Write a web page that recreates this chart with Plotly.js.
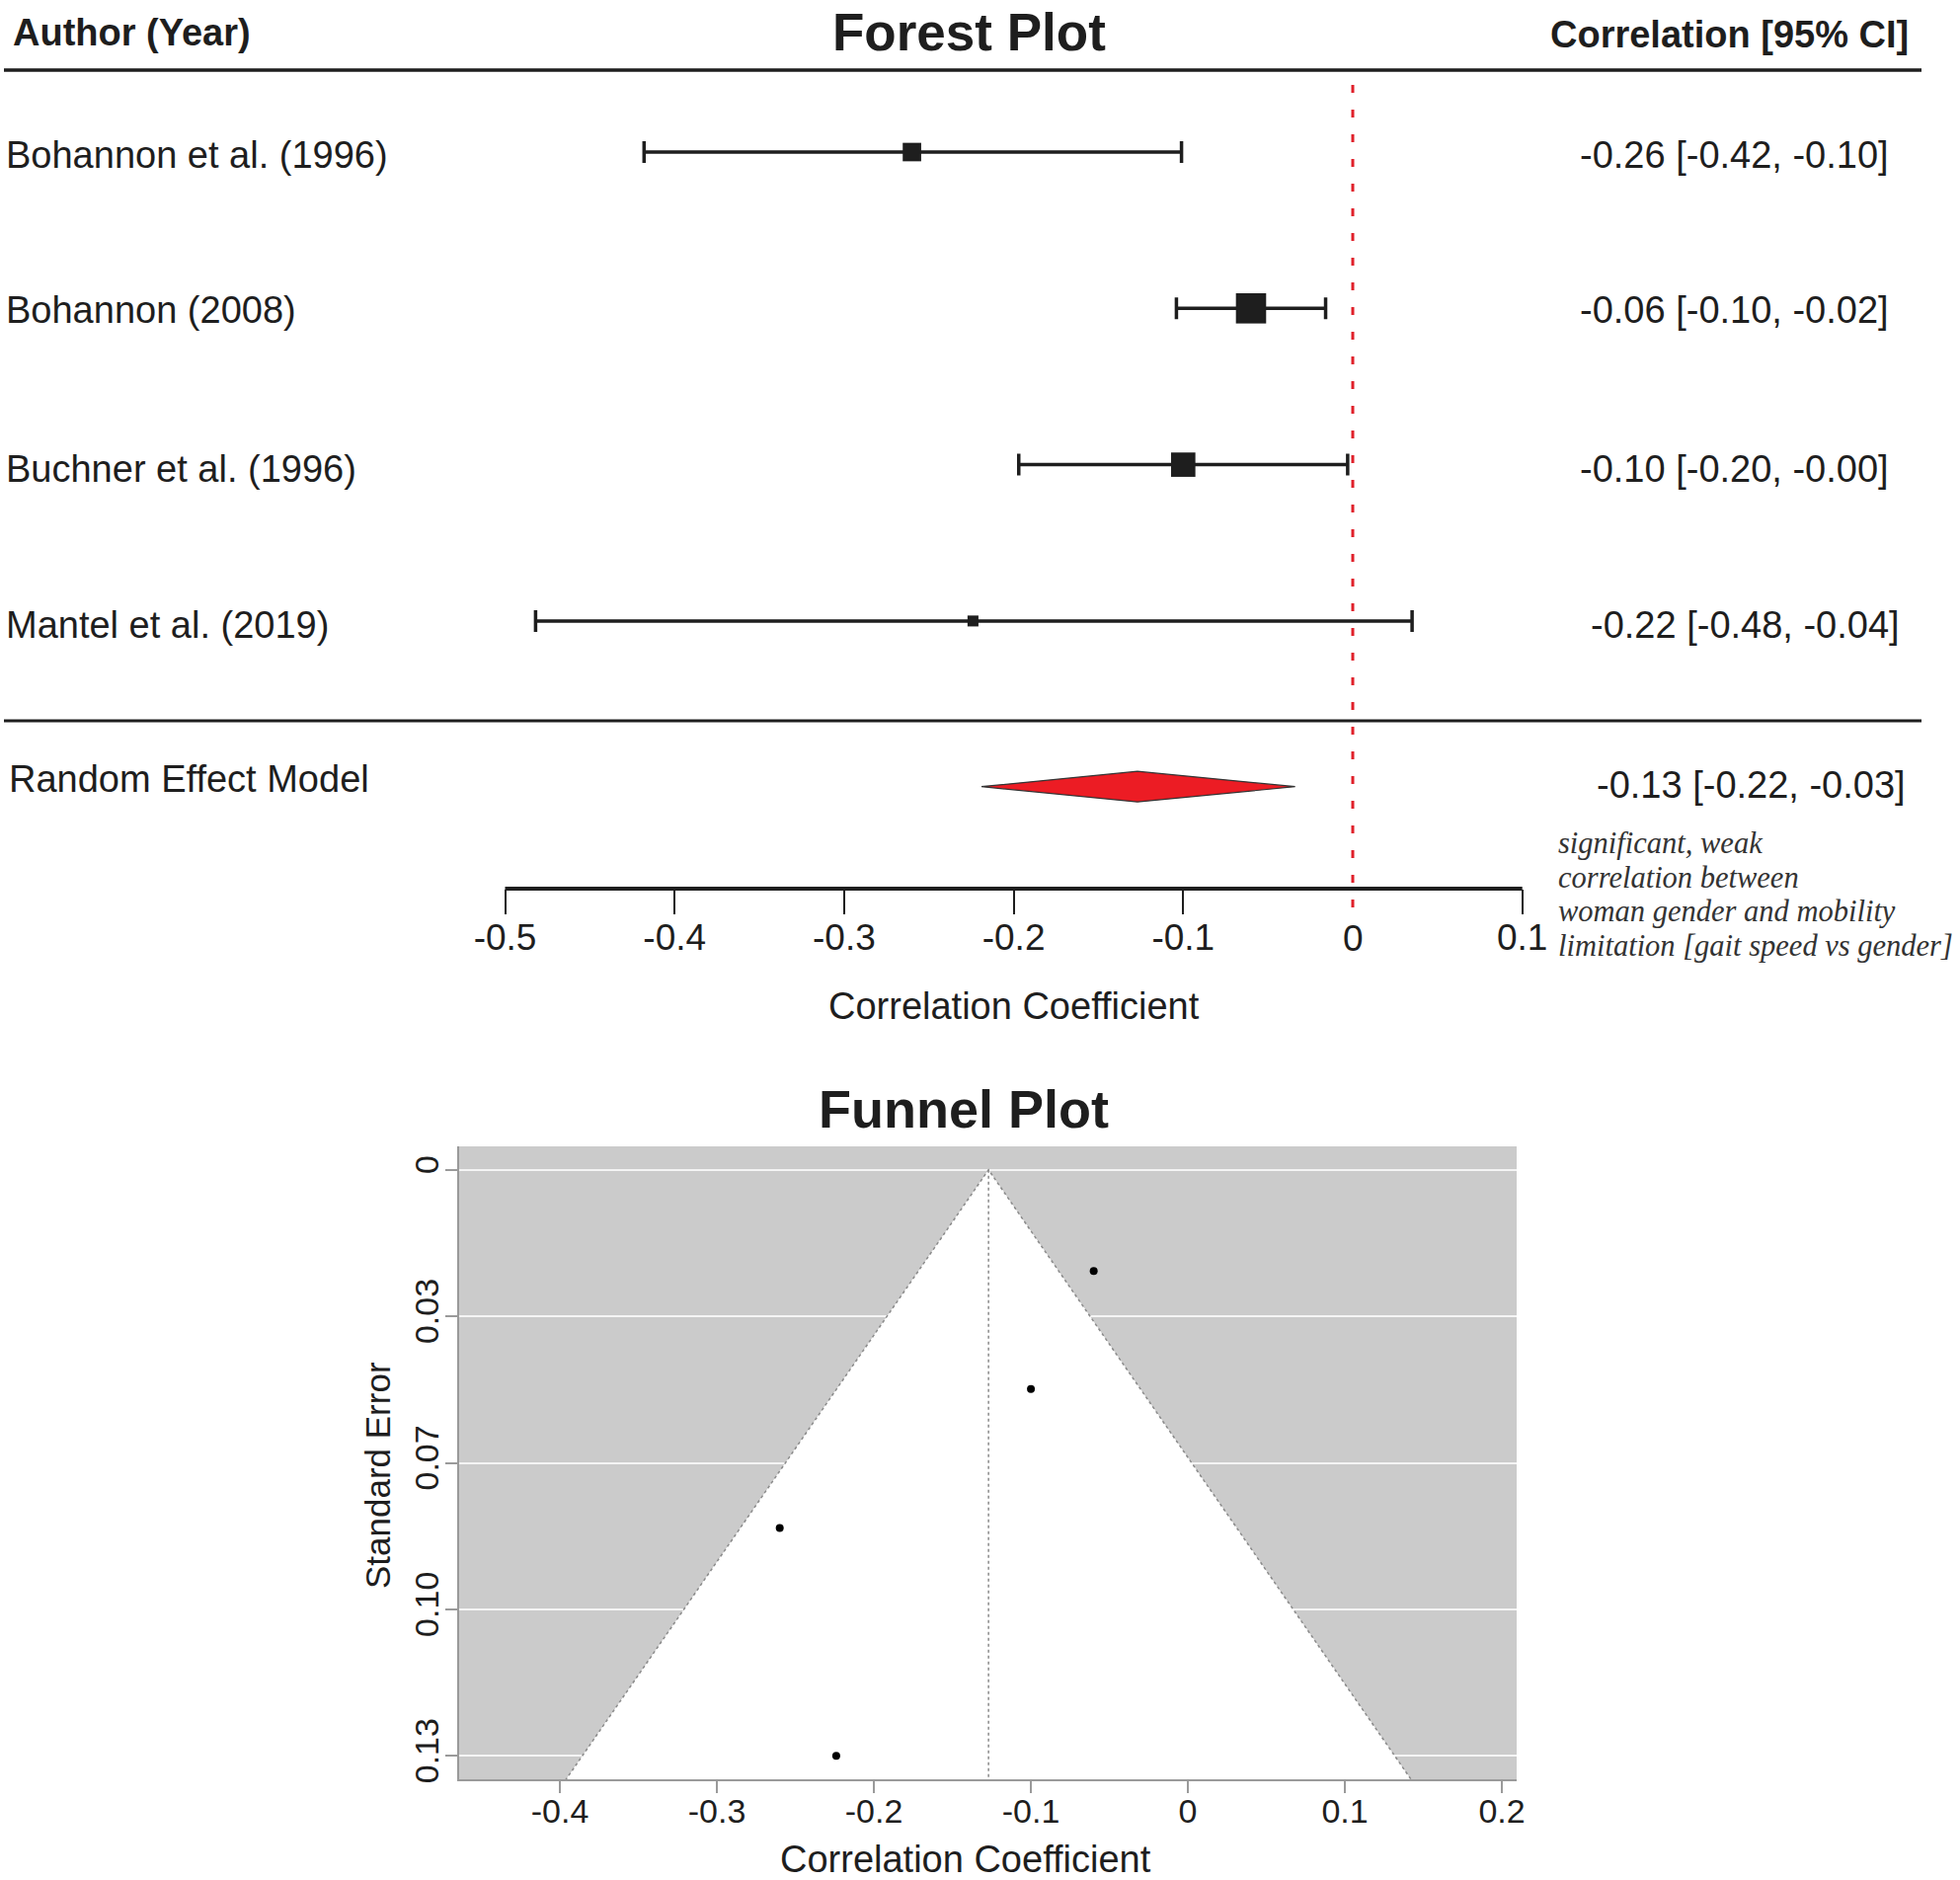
<!DOCTYPE html>
<html>
<head>
<meta charset="utf-8">
<script src="https://cdn.plot.ly/plotly-3.0.1.min.js"></script>
<style>html,body{margin:0;padding:0;background:#fff;}#chart{width:1985px;height:1904px;}</style>
</head>
<body>
<div id="chart"></div>
<script>
// ---------- data ----------
const studies = ["Bohannon et al. (1996)", "Bohannon (2008)", "Buchner et al. (1996)", "Mantel et al. (2019)"];
const estimate = [-0.26, -0.06, -0.10, -0.224];
const ciLower = [-0.418, -0.104, -0.197, -0.482];
const ciUpper = [-0.101, -0.016, -0.003, 0.035];
const ciText = ["-0.26 [-0.42, -0.10]", "-0.06 [-0.10, -0.02]", "-0.10 [-0.20, -0.00]", "-0.22 [-0.48, -0.04]"];
const weightPct = [22, 36, 29, 13];
const stdError = [0.0807, 0.0228, 0.0494, 0.132];

const reLabel = "Random Effect Model";
const reEstimate = -0.127;
const reLower = -0.219;
const reUpper = -0.034;
const reText = "-0.13 [-0.22, -0.03]";

const forestTickVals = [-0.5, -0.4, -0.3, -0.2, -0.1, 0.1];
const forestTickText = ["-0.5", "-0.4", "-0.3", "-0.2", "-0.1", "0.1"];
const funnelXTickVals = [-0.4, -0.3, -0.2, -0.1, 0, 0.1, 0.2];
const funnelXTickText = ["-0.4", "-0.3", "-0.2", "-0.1", "0", "0.1", "0.2"];
const funnelYTickText = ["0", "0.03", "0.07", "0.10", "0.13"];
const seMax = 0.132;

const noteLines = ["significant, weak", "correlation between", "woman gender and mobility", "limitation [gait speed vs gender]"];

// ---------- layout helpers ----------
const W = 1985, H = 1904;
const px = v => v / W;          // paper x from pixel
const py = v => 1 - v / H;      // paper y from pixel
const SANS = "Liberation Sans, Arial, Helvetica, sans-serif";
const SERIF = "Liberation Serif, Times New Roman, serif";
const INK = "#1e1e1e";

const rowPos = studies.map((_, i) => i);
const rePos = 4.06;
const diamondHalf = 0.098;
const labelShift = [-3, -2, -4, -4];
const rightX = [1598, 1598, 1598, 1609, 1615];

// ---------- traces ----------
const traces = [];

// forest: study CIs and boxes
traces.push({
  type: "scatter", mode: "markers", xaxis: "x", yaxis: "y",
  x: estimate, y: rowPos,
  marker: { symbol: "square", size: weightPct.map(w => w * 0.85), color: INK, opacity: 1, line: { width: 0 } },
  error_x: {
    type: "data", symmetric: false,
    array: estimate.map((e, i) => ciUpper[i] - e),
    arrayminus: estimate.map((e, i) => e - ciLower[i]),
    thickness: 3.5, width: 11, color: INK
  },
  hoverinfo: "skip"
});

// forest: random-effects diamond
traces.push({
  type: "scatter", mode: "lines", xaxis: "x", yaxis: "y",
  x: [reLower, reEstimate, reUpper, reEstimate, reLower],
  y: [rePos, rePos - diamondHalf, rePos, rePos + diamondHalf, rePos],
  fill: "toself", fillcolor: "#ec1c24",
  line: { color: "#333", width: 1.2 },
  hoverinfo: "skip"
});

// funnel: white region
const seBottom = seMax * 1.1;
const funnelX = [reEstimate - 1.96 * seBottom, reEstimate, reEstimate + 1.96 * seBottom];
const funnelY = [seBottom, 0, seBottom];
traces.push({
  type: "scatter", mode: "lines", xaxis: "x2", yaxis: "y2",
  x: funnelX.concat([funnelX[0]]), y: funnelY.concat([funnelY[0]]),
  fill: "toself", fillcolor: "#ffffff", line: { width: 0, color: "rgba(0,0,0,0)" },
  hoverinfo: "skip"
});
traces.push({
  type: "scatter", mode: "lines", xaxis: "x2", yaxis: "y2",
  x: funnelX, y: funnelY,
  line: { color: "#8a8a8a", width: 1.5, dash: "dot" },
  hoverinfo: "skip"
});
traces.push({
  type: "scatter", mode: "lines", xaxis: "x2", yaxis: "y2",
  x: [reEstimate, reEstimate], y: [0, seBottom],
  line: { color: "#8a8a8a", width: 1.5, dash: "dot" },
  hoverinfo: "skip"
});
traces.push({
  type: "scatter", mode: "markers", xaxis: "x2", yaxis: "y2",
  x: estimate, y: stdError,
  marker: { symbol: "circle", size: 8, color: "#000", opacity: 1 },
  hoverinfo: "skip"
});

// ---------- annotations ----------
const ann = [];
const txt = (text, x, y, opts) => Object.assign({
  text: text, x: x, y: y, xref: "paper", yref: "paper", showarrow: false,
  xanchor: "left", yanchor: "middle",
  font: { family: SANS, size: 38, color: INK }
}, opts || {});

ann.push(txt("<b>Author (Year)</b>", px(11), py(33)));
ann.push(txt("<b>Forest Plot</b>", px(981), py(32), { xanchor: "center", borderpad: 0, font: { family: SANS, size: 53, color: INK } }));
ann.push(txt("<b>Correlation [95% CI]</b>", px(1935), py(35), { xanchor: "right" }));

studies.forEach((s, i) => {
  ann.push(txt(s, px(4), rowPos[i], { yref: "y", yshift: labelShift[i] }));
  ann.push(txt(ciText[i], px(rightX[i]), rowPos[i], { yref: "y", yshift: labelShift[i] }));
});
ann.push(txt(reLabel, px(7), rePos, { yref: "y", yshift: 8 }));
ann.push(txt(reText, px(rightX[4]), rePos, { yref: "y", yshift: 2 }));

ann.push(txt("0", 0, py(950), { xref: "x", xanchor: "center", font: { family: SANS, size: 37, color: INK } }));
ann.push(txt("Correlation Coefficient", -0.2, py(1019), { xref: "x", xanchor: "center" }));

const noteY = [854, 888.5, 923, 957.5];
noteLines.forEach((l, i) => {
  ann.push(txt("<i>" + l + "</i>", px(1576), py(noteY[i]), { font: { family: SERIF, size: 30.5, color: "#333" } }));
});

ann.push(txt("<b>Funnel Plot</b>", px(976), py(1123), { xanchor: "center", font: { family: SANS, size: 54, color: INK } }));
ann.push(txt("Standard Error", px(382), py(1494), { xanchor: "center", textangle: -90, font: { family: SANS, size: 35, color: INK } }));
ann.push(txt("Correlation Coefficient", px(978), py(1883), { xanchor: "center", borderpad: 0 }));

// ---------- shapes ----------
const shapes = [
  // funnel background
  { type: "rect", xref: "x2 domain", yref: "y2 domain", x0: 0, x1: 1, y0: 0, y1: 1,
    fillcolor: "#cbcbcb", line: { width: 0 }, layer: "below" },
  // header rule
  { type: "line", xref: "paper", yref: "paper", x0: px(4), x1: px(1946), y0: py(71), y1: py(71),
    line: { color: INK, width: 3.5 } },
  // separator rule
  { type: "line", xref: "paper", yref: "paper", x0: px(4), x1: px(1946), y0: py(730), y1: py(730),
    line: { color: INK, width: 3 } },
  // forest axis line
  { type: "line", xref: "x", yref: "paper", x0: -0.5, x1: 0.1, y0: py(900), y1: py(900),
    line: { color: INK, width: 4 } },
  // null line
  { type: "line", xref: "x", yref: "paper", x0: 0, x1: 0, y0: py(86), y1: py(925),
    line: { color: "#e0202a", width: 3, dash: "8px,17px" } }
];

// ---------- layout ----------
const layout = {
  width: W, height: H,
  margin: { l: 0, r: 0, t: 0, b: 0, pad: 0 },
  paper_bgcolor: "#fff", plot_bgcolor: "rgba(0,0,0,0)",
  showlegend: false,
  font: { family: SANS, color: INK },
  xaxis: {
    domain: [0, 1], anchor: "y",
    range: [-0.5 - 511.5 / 1717, -0.5 + 1473.5 / 1717],
    showgrid: false, zeroline: false, showline: false,
    ticks: "outside", ticklen: 25, tickwidth: 2, tickcolor: INK,
    tickvals: forestTickVals, ticktext: forestTickText,
    ticklabelstandoff: -8,
    tickfont: { family: SANS, size: 37, color: INK },
    fixedrange: true
  },
  yaxis: {
    domain: [py(900), 1], anchor: "x",
    range: [(900 - 154) / 158.3, -154 / 158.3],
    visible: false, fixedrange: true
  },
  xaxis2: {
    domain: [px(465), px(1536)], anchor: "y2",
    range: [-0.4642, 0.2094],
    showgrid: false, zeroline: false,
    showline: true, linecolor: "#9a9a9a", linewidth: 2,
    ticks: "outside", ticklen: 12, tickwidth: 2, tickcolor: "#9a9a9a",
    tickvals: funnelXTickVals, ticktext: funnelXTickText,
    ticklabelstandoff: -11,
    tickfont: { family: SANS, size: 34, color: INK },
    fixedrange: true
  },
  yaxis2: {
    domain: [py(1802), py(1161)], anchor: "x2",
    range: [seMax * 1.04, -seMax * 0.04],
    showgrid: true, gridcolor: "#f4f4f4", gridwidth: 2, zeroline: false,
    showline: true, linecolor: "#9a9a9a", linewidth: 2,
    ticks: "outside", ticklen: 12, tickwidth: 2, tickcolor: "#9a9a9a",
    tickvals: funnelYTickText.map((_, i) => seMax * i / 4), ticktext: funnelYTickText,
    tickangle: -90,
    ticklabelstandoff: -7,
    tickfont: { family: SANS, size: 34, color: INK },
    fixedrange: true
  },
  annotations: ann,
  shapes: shapes
};

Plotly.newPlot("chart", traces, layout, { staticPlot: true, displayModeBar: false });
</script>
</body>
</html>
